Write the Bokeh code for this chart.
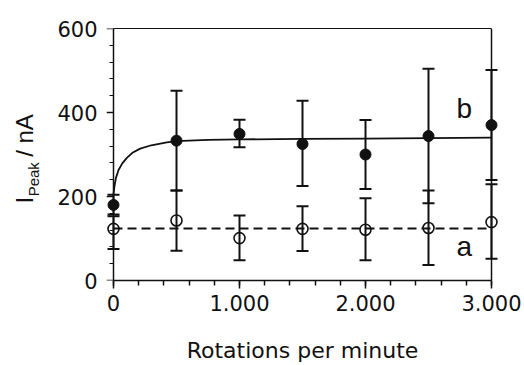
from bokeh.plotting import figure
from bokeh.models import (ColumnDataSource, Whisker, TeeHead, FixedTicker, Range1d,
                          LinearAxis, Label)
from bokeh.core.properties import value
from bokeh.embed import file_html
from bokeh.resources import INLINE
import math

# ---------------- data ----------------
rpm = [0, 500, 1000, 1500, 2000, 2500, 3000]

b_mean = [180, 333, 349, 325, 300, 344, 370]
b_upper = [204, 452, 383, 428, 382, 504, 501]
b_lower = [157, 214, 317, 225, 218, 184, 239]

a_mean = [123, 143, 101, 123, 121, 125, 139]
a_upper = [153, 214, 155, 177, 196, 214, 229]
a_lower = [75, 71, 48, 70, 48, 37, 52]

fit_b_x = [0, 5, 10, 20, 40, 70, 106, 150, 212, 300, 423, 500, 750, 1000, 1500, 2000, 2500, 3000]
fit_b_y = [205, 218, 229, 245, 263, 279, 292, 304, 314, 322, 329, 332, 335, 336, 337, 338, 339, 340]

fit_a_x = [0, 3000]
fit_a_y = [124, 124]

x_ticks = [0, 1000, 2000, 3000]
x_tick_labels = ["0", "1.000", "2.000", "3.000"]
x_minor = [0, 200, 400, 600, 800, 1000, 1200, 1400, 1600, 1800, 2000,
           2200, 2400, 2600, 2800, 3000]
y_ticks = [0, 200, 400, 600]
y_minor = [40, 80, 120, 160, 240, 280, 320, 360, 440, 480, 520, 560]

curve_names = ["b", "a"]
curve_name_x = [2722, 2722]
curve_name_y = [410, 80]

# ---------------- geometry ----------------
INK = "#111111"
X_MAX, Y_MAX = 3000, 600
FRAME_W_DATA = 378          # px between x=0 and x=3000
PX_PER_X = FRAME_W_DATA / X_MAX
PX_PER_Y = 252 / Y_MAX
PAD_PX = 7
pad = PAD_PX / PX_PER_X

p = figure(width=524, height=365, output_backend="svg", toolbar_location=None,
           x_range=Range1d(-pad, X_MAX + pad), y_range=Range1d(0, Y_MAX),
           min_border_left=113 - PAD_PX, min_border_right=524 - 113 - FRAME_W_DATA - PAD_PX,
           min_border_top=28, min_border_bottom=85,
           x_axis_location=None, y_axis_location=None)
p.grid.visible = False
p.outline_line_color = None
p.background_fill_color = "white"
p.border_fill_color = "white"

tick_font = "DejaVu Sans"

# bottom axis
xaxis = LinearAxis(ticker=FixedTicker(ticks=x_ticks, minor_ticks=x_minor), bounds=(0, X_MAX))
xaxis.major_label_overrides = {t: l for t, l in zip(x_ticks, x_tick_labels)}
xaxis.axis_label = "Rotations per minute"
xaxis.axis_label_text_font = tick_font
xaxis.axis_label_text_font_size = "22px"
xaxis.axis_label_text_font_style = "normal"
xaxis.axis_label_text_color = INK
xaxis.axis_label_standoff = 24
xaxis.major_label_text_font = tick_font
xaxis.major_label_text_font_size = "21px"
xaxis.major_label_text_color = INK
xaxis.major_label_standoff = 6
xaxis.major_tick_out = 8
xaxis.major_tick_in = 0
xaxis.minor_tick_out = 5
xaxis.minor_tick_in = 0
for prop in ("axis_line", "major_tick_line", "minor_tick_line"):
    setattr(xaxis, prop + "_color", INK)
    setattr(xaxis, prop + "_width", 1.5)
p.add_layout(xaxis, "below")

# left axis carrying only the tick labels (sits at the frame edge)
ylab_axis = LinearAxis(ticker=FixedTicker(ticks=y_ticks, minor_ticks=[]))
ylab_axis.axis_line_color = None
ylab_axis.major_tick_line_color = None
ylab_axis.minor_tick_line_color = None
ylab_axis.major_tick_out = 0
ylab_axis.major_tick_in = 0
ylab_axis.major_label_text_font = tick_font
ylab_axis.major_label_text_font_size = "21px"
ylab_axis.major_label_text_color = INK
ylab_axis.major_label_standoff = 9
p.add_layout(ylab_axis, "left")

# axis line + major ticks at x = 0
ymaj_axis = LinearAxis(ticker=FixedTicker(ticks=[], minor_ticks=y_ticks), bounds=(0, Y_MAX),
                       fixed_location=0)
ymaj_axis.axis_line_color = INK
ymaj_axis.axis_line_width = 1.5
ymaj_axis.minor_tick_line_color = INK
ymaj_axis.minor_tick_line_width = 1.5
ymaj_axis.minor_tick_out = 7
ymaj_axis.minor_tick_in = 0
p.add_layout(ymaj_axis, "left")

# minor ticks at x = 0
ymin_axis = LinearAxis(ticker=FixedTicker(ticks=[], minor_ticks=y_minor), bounds=(0, Y_MAX),
                       fixed_location=0)
ymin_axis.axis_line_color = None
ymin_axis.minor_tick_line_color = INK
ymin_axis.minor_tick_line_width = 1.2
ymin_axis.minor_tick_out = 4
ymin_axis.minor_tick_in = 0
p.add_layout(ymin_axis, "left")

# frame lines top and right
top_axis = LinearAxis(ticker=FixedTicker(ticks=[], minor_ticks=[]), bounds=(0, X_MAX),
                      axis_line_color=INK, axis_line_width=1.2)
p.add_layout(top_axis, "above")
right_axis = LinearAxis(ticker=FixedTicker(ticks=[], minor_ticks=[]), bounds=(0, Y_MAX),
                        fixed_location=X_MAX, axis_line_color=INK, axis_line_width=1.5)
p.add_layout(right_axis, "right")

# ---------------- error bars ----------------
src_b = ColumnDataSource(dict(x=rpm, y=b_mean, upper=b_upper, lower=b_lower))
src_a = ColumnDataSource(dict(x=rpm, y=a_mean, upper=a_upper, lower=a_lower))

for src in (src_a, src_b):
    w = Whisker(source=src, base="x", upper="upper", lower="lower", dimension="height",
                line_color=INK, line_width=2,
                upper_head=TeeHead(size=12, line_color=INK, line_width=2),
                lower_head=TeeHead(size=12, line_color=INK, line_width=2))
    p.add_layout(w)

# ---------------- curves ----------------
p.line(fit_b_x, fit_b_y, line_color=INK, line_width=1.8)
p.line(fit_a_x, fit_a_y, line_color=INK, line_width=2, line_dash="9 5")

# ---------------- markers ----------------
p.scatter("x", "y", source=src_b, size=11, marker="circle", fill_color=INK, line_color=INK)
p.scatter("x", "y", source=src_a, size=11, marker="circle", fill_alpha=0, line_color=INK,
          line_width=1.6)

# curve names
p.text(x=curve_name_x, y=curve_name_y, text=curve_names, text_font=value("Liberation Sans"),
       text_font_size="28px", text_color=INK, text_baseline="alphabetic", text_align="left")

# ---------------- y-axis title (I_Peak / nA), rotated ----------------
lab_font = "Liberation Sans"
big, small = 24, 15
base_x_px = 24 - 113          # baseline position relative to x = 0, in px
sub_x_px = 33 - 113
start_y_px = 280 - 203        # bottom of the title, px above y = 0
nbsp = "\u00a0"
main_text = "I" + nbsp * 5 + " / nA"     # gap leaves room for the subscript
p.add_layout(Label(x=base_x_px / PX_PER_X, y=start_y_px / PX_PER_Y, x_units="data",
                   y_units="data", text=main_text, angle=math.pi / 2, text_font=lab_font,
                   text_font_size=f"{big}px", text_color=INK,
                   text_baseline="alphabetic", text_align="left"), "left")
sub_y_px = start_y_px + 0.278 * big + 0.5
p.add_layout(Label(x=sub_x_px / PX_PER_X, y=sub_y_px / PX_PER_Y, x_units="data",
                   y_units="data", text="Peak", angle=math.pi / 2, text_font=lab_font,
                   text_font_size=f"{small}px", text_color=INK,
                   text_baseline="alphabetic", text_align="left"), "left")

open("out.html", "w").write(file_html(p, INLINE))
